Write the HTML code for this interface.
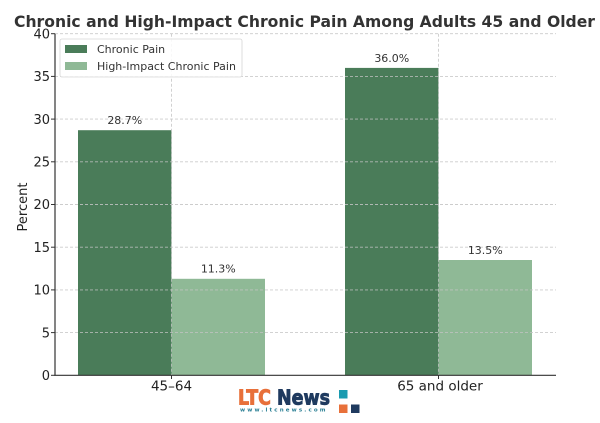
<!DOCTYPE html>
<html><head><meta charset="utf-8"><style>
html,body{margin:0;padding:0;background:#fff;}
svg{display:block;}
text{font-family:"DejaVu Sans","Liberation Sans",sans-serif;}
</style></head><body>
<svg width="600" height="423" viewBox="0 0 600 423" xmlns="http://www.w3.org/2000/svg">
<rect width="600" height="423" fill="#fff"/>
<!-- title -->
<text x="14" y="27" font-size="16" font-weight="bold" fill="#333" textLength="581" lengthAdjust="spacingAndGlyphs">Chronic and High-Impact Chronic Pain Among Adults 45 and Older</text>
<!-- bars -->
<rect x="78" y="130.2" width="93.5" height="245.1" fill="#4a7c59"/>
<rect x="171.5" y="278.8" width="93.5" height="96.5" fill="#8fb996"/>
<rect x="345" y="67.9" width="93.5" height="307.4" fill="#4a7c59"/>
<rect x="438.5" y="260" width="93.5" height="115.3" fill="#8fb996"/>
<!-- grid -->
<g stroke="#c4c4c4" stroke-width="0.9" stroke-dasharray="3,2" opacity="0.85">
<line x1="55" x2="556" y1="332.6" y2="332.6"/>
<line x1="55" x2="556" y1="289.9" y2="289.9"/>
<line x1="55" x2="556" y1="247.2" y2="247.2"/>
<line x1="55" x2="556" y1="204.5" y2="204.5"/>
<line x1="55" x2="556" y1="161.8" y2="161.8"/>
<line x1="55" x2="556" y1="119.1" y2="119.1"/>
<line x1="55" x2="556" y1="76.4" y2="76.4"/>
<line x1="55" x2="556" y1="33.7" y2="33.7"/>
<line x1="171.5" x2="171.5" y1="33.7" y2="375"/>
<line x1="438.5" x2="438.5" y1="33.7" y2="375"/>
</g>
<!-- spines -->
<line x1="55" x2="55" y1="33.7" y2="375.8" stroke="#333" stroke-width="1.2"/>
<line x1="54.4" x2="556" y1="375.3" y2="375.3" stroke="#333" stroke-width="1.2"/>
<!-- y ticks -->
<g stroke="#333" stroke-width="1">
<line x1="51" x2="55" y1="375.3" y2="375.3"/>
<line x1="51" x2="55" y1="332.6" y2="332.6"/>
<line x1="51" x2="55" y1="289.9" y2="289.9"/>
<line x1="51" x2="55" y1="247.2" y2="247.2"/>
<line x1="51" x2="55" y1="204.5" y2="204.5"/>
<line x1="51" x2="55" y1="161.8" y2="161.8"/>
<line x1="51" x2="55" y1="119.1" y2="119.1"/>
<line x1="51" x2="55" y1="76.4" y2="76.4"/>
<line x1="51" x2="55" y1="33.7" y2="33.7"/>
<line x1="171.5" x2="171.5" y1="375.3" y2="379"/>
<line x1="438.5" x2="438.5" y1="375.3" y2="379"/>
</g>
<g font-size="13" fill="#222" text-anchor="end">
<text x="50" y="380">0</text>
<text x="50" y="337.3">5</text>
<text x="50" y="294.6">10</text>
<text x="50" y="251.9">15</text>
<text x="50" y="209.2">20</text>
<text x="50" y="166.5">25</text>
<text x="50" y="123.8">30</text>
<text x="50" y="81.1">35</text>
<text x="50" y="38.4">40</text>
</g>
<text transform="translate(27,207) rotate(-90)" font-size="13" fill="#222" text-anchor="middle">Percent</text>
<g font-size="13.5" fill="#222" text-anchor="middle">
<text x="171.5" y="390.5">45–64</text>
<text x="440" y="390.5">65 and older</text>
</g>
<!-- value labels -->
<g font-size="11" fill="#333" text-anchor="middle">
<text x="124.8" y="124">28.7%</text>
<text x="218.3" y="272.5">11.3%</text>
<text x="391.8" y="62">36.0%</text>
<text x="485.3" y="254">13.5%</text>
</g>
<!-- legend -->
<rect x="60" y="39" width="182" height="38" rx="2" fill="#fff" fill-opacity="0.85" stroke="#d6d6d6" stroke-width="0.8"/>
<rect x="65" y="45" width="22" height="8" fill="#4a7c59"/>
<rect x="65" y="62" width="22" height="8" fill="#8fb996"/>
<g font-size="11" fill="#333">
<text x="97" y="53">Chronic Pain</text>
<text x="97" y="70">High-Impact Chronic Pain</text>
</g>
<!-- logo -->
<text x="238" y="404.5" font-family="'Liberation Sans',sans-serif" font-weight="bold" font-size="20" stroke-width="0.9" textLength="92" lengthAdjust="spacingAndGlyphs"><tspan fill="#e8703a" stroke="#e8703a">LTC</tspan><tspan fill="#1f3a5f" stroke="#1f3a5f"> News</tspan></text>
<text x="240" y="411.5" font-family="'Liberation Sans',sans-serif" font-weight="bold" font-size="5.5" fill="#2a7f94" textLength="88" lengthAdjust="spacing" letter-spacing="2.5">www.ltcnews.com</text>
<rect x="339" y="390" width="8.5" height="8.5" fill="#1a9bb0"/>
<rect x="339" y="404.5" width="8.5" height="8.5" fill="#e8703a"/>
<rect x="351" y="404.5" width="8.5" height="8.5" fill="#1f3a5f"/>
</svg>
</body></html>
